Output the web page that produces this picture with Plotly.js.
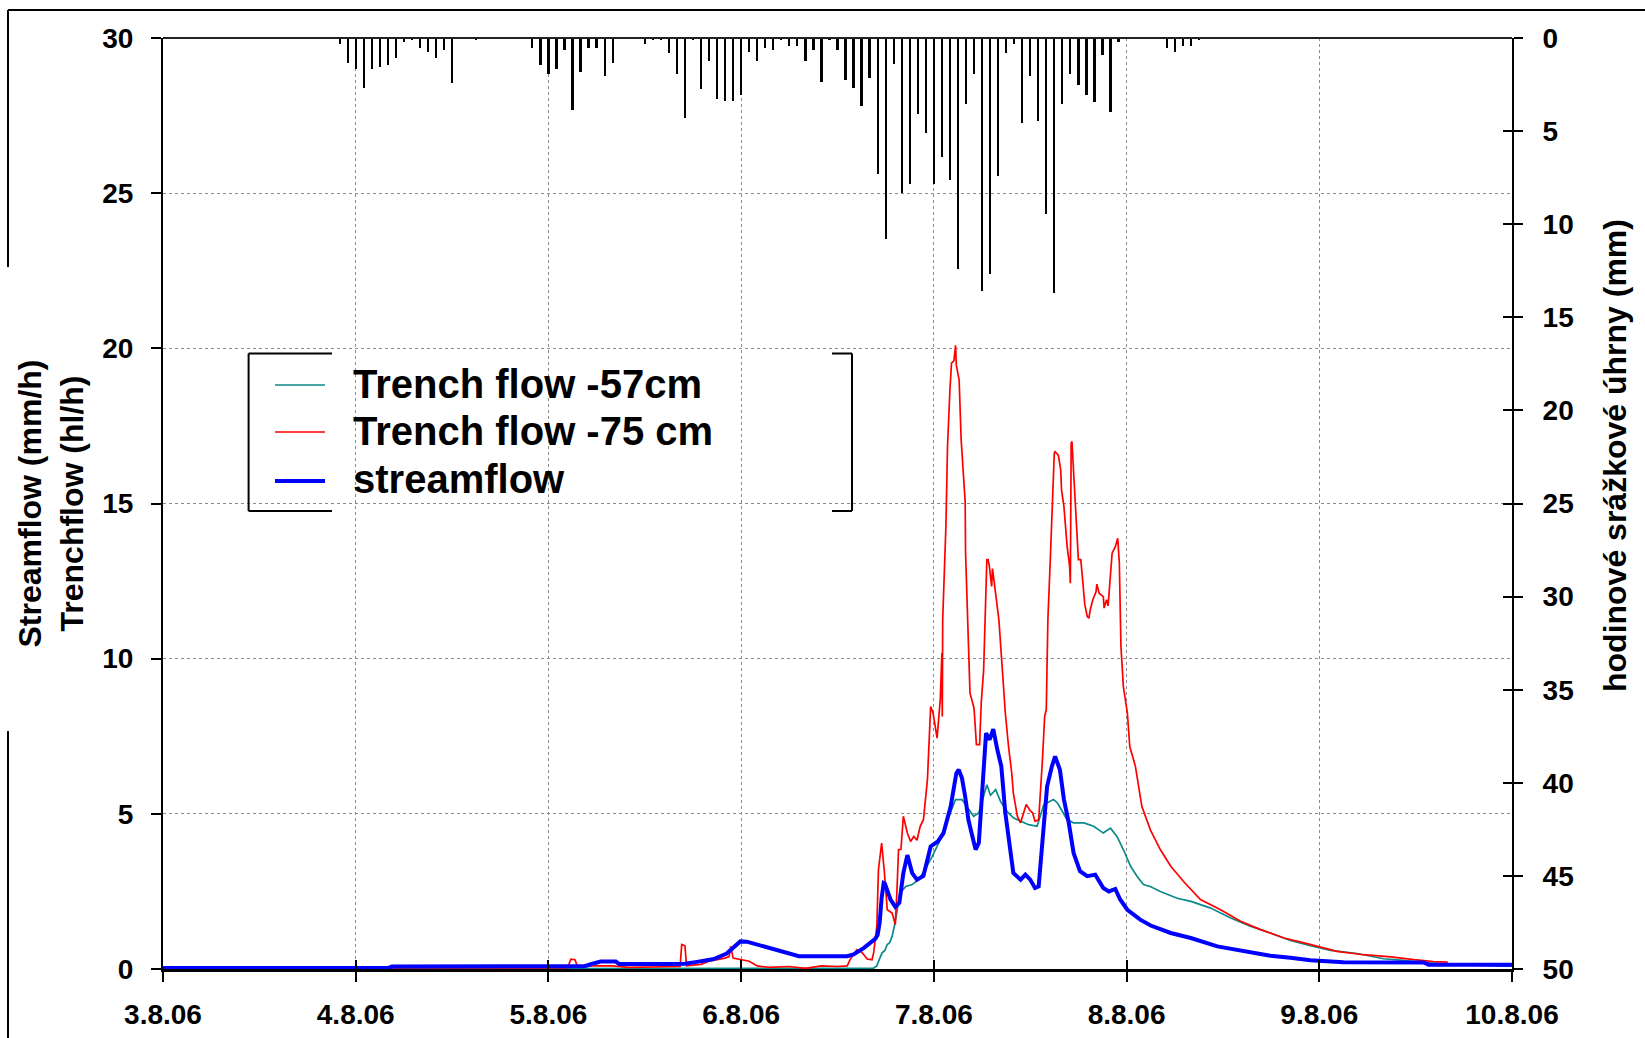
<!DOCTYPE html>
<html>
<head>
<meta charset="utf-8">
<script src="https://cdn.plot.ly/plotly-3.0.1.min.js"></script>
<style>html,body{margin:0;padding:0;background:#fff;}#chart{width:1645px;height:1038px;}</style>
</head>
<body>
<div id="chart"></div>
<script>
// ---- tick labels (x axis in hours since 3.8.2006 00:00) ----
const dayTicks = [0, 24, 48, 72, 96, 120, 144, 168];
const dayLabels = ['3.8.06', '4.8.06', '5.8.06', '6.8.06', '7.8.06', '8.8.06', '9.8.06', '10.8.06'];

// ---- series names ----
const seriesNames = ['Trench flow -57cm', 'Trench flow -75 cm', 'streamflow'];
const seriesColors = ['#0a8a8a', '#ff0000', '#0000ff'];

// ---- hourly precipitation (mm) ----
const rainHours = [22,23,24,25,26,27,28,29,30,31,32,33,34,35,36,39,
  46,47,48,49,50,51,52,53,54,55,56,60,61,62,63,64,65,66,67,68,69,70,71,72,73,
  74,75,76,77,78,79,80,81,82,83,84,85,86,87,88,89,90,91,92,93,94,95,96,97,98,99,
  100,101,102,103,104,105,106,107,108,109,110,111,112,113,114,115,116,117,118,119,
  125,126,127,128,129];
const rainMM = [0.33,1.34,1.66,2.66,1.66,1.55,1.44,1.05,0.23,0.1,0.53,0.75,1.05,0.64,2.44,0.1,
  0.53,1.44,1.94,1.66,0.64,3.88,1.85,0.53,0.53,2.05,1.34,0.33,0.1,0.1,0.83,1.94,4.27,0.1,2.75,1.23,3.27,3.36,3.36,3.05,0.75,
  1.23,0.53,0.64,0.1,0.42,0.42,1.23,0.64,2.36,0.1,0.64,2.25,2.66,3.66,2.14,7.33,10.77,1.42,8.35,7.83,4.07,5.09,7.83,6.40,7.63,12.4,
  3.57,1.94,13.61,12.7,7.42,0.83,0.3,4.59,2.05,4.48,9.46,13.72,3.57,1.94,2.55,3.07,3.46,0.92,3.97,0.23,
  0.53,0.75,0.42,0.42,0.1];

// ---- Trench flow -57 cm ----
const tealHours = [0,79,79.5,88.5,88.9,89.2,89.55,89.9,90.2,90.5,90.8,91.1,91.4,91.8,92.5,93.3,94.1,94.9,95.8,96.6,97.4,98.1,98.7,99.5,
  100.1,100.95,101.6,102.2,102.6,103.05,103.7,104.3,105.1,105.9,106.8,107.8,108.85,109.7,110.9,111.4,112.6,113.4,
  114.7,115.9,117.1,118.0,118.8,119.6,120.5,121.3,122.1,122.95,124.2,126.3,128.0,130.4,132.9,135.4,137.9,140.4,
  142.9,145.4,148.7,152.0,154.5,157.0,166.6,168];
const tealQ = [0,0,0.02,0.03,0.1,0.3,0.52,0.6,0.79,0.85,1.05,1.4,1.91,2.45,2.66,2.72,2.88,3.2,3.63,4.06,4.6,5.03,5.46,5.46,
  5.24,4.92,5.03,5.56,5.94,5.6,5.78,5.4,5.08,4.87,4.76,4.65,4.6,5.3,5.46,5.35,4.81,4.71,
  4.71,4.6,4.38,4.54,4.27,3.85,3.31,2.99,2.72,2.66,2.5,2.28,2.18,1.97,1.65,1.38,1.16,0.92,
  0.75,0.6,0.5,0.33,0.28,0.2,0.09,0.09];

// ---- Trench flow -75 cm ----
const redHours = [0,50.3,50.8,51.3,51.6,56,58,64.4,64.6,65.0,65.2,67,68,70,70.5,70.7,71.0,72,73,74,75.5,78,80,82,84,85.2,
  85.6,86.4,87,87.7,88.3,88.5,88.9,89.1,89.5,89.85,90.2,90.8,91.2,91.4,91.6,91.9,92.2,92.7,93.1,93.5,93.9,94.3,94.7,
  95.2,95.6,95.9,96.4,96.8,97.0,97.05,97.1,97.5,97.7,98.0,98.2,98.5,98.7,98.8,99.0,99.15,99.4,99.9,99.95,100.2,100.5,
  101.0,101.3,101.7,101.9,102.2,102.4,102.6,102.75,102.9,103.2,103.3,103.5,103.8,104.1,104.5,104.9,105.3,105.7,105.9,
  106.4,106.8,107.2,107.5,108.0,108.3,108.6,109.05,109.5,109.8,110.0,110.2,110.5,110.7,111.0,111.1,111.5,111.8,111.9,
  112.2,112.3,112.5,112.6,112.9,113.0,113.1,113.2,113.5,113.8,114.0,114.3,114.5,114.6,114.8,115.1,115.3,115.5,115.8,
  116.2,116.3,116.6,117.1,117.2,117.5,117.7,117.9,118.2,118.6,118.9,119.1,119.2,119.3,119.6,120.1,120.4,121.1,121.9,
  122.95,124.2,125.5,127.1,129.2,131.7,134.2,136.7,139.6,142.1,144.1,146.2,149.5,152.9,155.8,158.2,160.0];
const redQ = [0,0,0.32,0.3,0.1,0.1,0.05,0.08,0.79,0.75,0.1,0.15,0.25,0.35,0.4,0.73,0.35,0.3,0.25,0.1,0.05,0.08,0.02,0.1,0.08,0.1,
  0.32,0.62,0.55,0.32,0.3,0.52,1.38,3.2,4.06,3.09,1.91,1.8,1.43,2.5,3.85,3.85,4.92,4.38,4.11,4.27,4.15,4.6,4.81,
  6.1,8.46,8.25,7.44,8.68,10.18,8.14,11.25,14.26,16.83,18.66,19.52,19.6,20.1,19.45,19.09,18.98,17.05,15.06,13.4,11.25,8.89,
  8.41,7.23,7.23,8.57,9.64,11.47,13.19,13.19,13.0,12.33,12.9,12.5,11.79,11.25,9.75,8.25,7.17,6.31,5.67,
  4.92,4.71,5.1,5.3,5.1,5.03,4.76,4.81,6.64,8.14,8.36,11.25,13.19,14.69,16.62,16.67,16.56,16.08,15.44,
  14.9,14.58,13.94,13.61,13.0,12.43,16.94,17.0,15.55,14.26,13.19,13.19,12.6,12.33,11.74,11.36,11.3,11.6,11.9,
  12.16,12.4,12.1,12.0,11.63,11.9,11.7,12.33,13.4,13.61,13.88,13.08,11.25,10.39,9.1,8.25,7.17,6.53,5.24,
  4.49,3.85,3.31,2.82,2.24,1.91,1.54,1.27,1.0,0.84,0.71,0.57,0.46,0.39,0.3,0.24,0.22];

// ---- streamflow ----
const blueHours = [0,28,28.5,42,52.5,53.5,54.5,56.4,56.8,63.6,65,66.5,68.6,70.2,71.1,71.9,72.7,74.4,76.05,77.7,79.2,85.2,
  86.0,87.3,88.7,89.0,89.25,89.5,89.75,89.9,90.6,91.2,91.7,92.2,92.7,93.3,93.9,94.7,95.6,96.5,97.2,98.1,98.8,99.1,99.5,
  99.9,100.3,100.8,101.2,101.6,102.0,102.5,102.95,103.4,103.9,104.4,104.9,105.4,105.9,106.8,107.4,108.0,108.6,109.05,
  109.5,110.1,110.7,111.1,111.7,112.2,112.8,113.4,114.2,115.1,116.1,117.1,117.8,118.6,119.2,120.1,121.7,123.0,125.5,
  128.0,131.3,134.6,137.9,140.4,142.9,147.0,157.0,157.6,168];
const blueQ = [0.03,0.03,0.08,0.09,0.09,0.17,0.24,0.24,0.16,0.16,0.17,0.23,0.32,0.5,0.71,0.89,0.88,0.75,0.65,0.52,0.41,0.41,
  0.47,0.68,0.97,1.1,1.5,2.3,2.77,2.75,2.24,2.0,2.13,3.09,3.67,3.09,2.88,3.0,3.95,4.11,4.38,5.24,6.31,6.42,6.15,
  5.56,4.81,4.27,3.85,4.06,5.67,7.6,7.39,7.73,7.07,6.53,5.03,3.95,3.09,2.88,3.04,2.88,2.61,2.66,
  4.06,5.88,6.53,6.85,6.42,5.46,4.71,3.74,3.15,2.99,3.04,2.61,2.5,2.58,2.24,1.91,1.59,1.4,1.16,
  1.0,0.73,0.57,0.43,0.36,0.28,0.22,0.21,0.14,0.14];

// ---- plot-area geometry helpers (pixels -> paper) ----
const L = 163, R = 1512, T = 38, B = 969;
const px = x => (x - L) / (R - L);
const py = y => (B - y) / (B - T);
const FONT = 'Liberation Sans, Arial, Helvetica, sans-serif';

function seg(x0, y0, x1, y1, w, c) {
  return {type: 'line', xref: 'paper', yref: 'paper', x0: px(x0), y0: py(y0), x1: px(x1), y1: py(y1),
          line: {color: c || '#000', width: w || 2}, layer: 'above'};
}

const seriesX = [tealHours, redHours, blueHours];
const seriesY = [tealQ, redQ, blueQ];
const seriesW = [1.7, 1.7, 4];

const traces = [
  {type: 'bar', x: rainHours, y: rainMM, xaxis: 'x', yaxis: 'y2', width: 0.28,
   marker: {color: '#000', line: {width: 0}}, showlegend: false, hoverinfo: 'x+y'}
];
seriesNames.forEach((n, i) => traces.push({
  type: 'scatter', mode: 'lines', name: n, x: seriesX[i], y: seriesY[i],
  line: {color: seriesColors[i], width: seriesW[i]}, showlegend: false
}));
// empty helper trace so the inside-tick axes are drawn
traces.push({type: 'scatter', mode: 'lines', x: [], y: [], xaxis: 'x2', yaxis: 'y3', showlegend: false, hoverinfo: 'skip'});

const tickFont = {family: FONT, size: 28, color: '#000', weight: 'bold'};

// legend (boxed, with the frame partly hidden behind the text block as in the source)
const legRowText = [384, 431, 479];
const legRowLine = [385, 432, 481];
const legendAnn = seriesNames.map((n, i) => ({
  xref: 'paper', yref: 'paper', x: px(351), y: py(legRowText[i]), xanchor: 'left', yanchor: 'middle',
  text: n, showarrow: false, font: {family: FONT, size: 40, color: '#000', weight: 'bold'}
}));
const legendLines = seriesNames.map((n, i) => seg(275, legRowLine[i], 325, legRowLine[i], seriesW[i], seriesColors[i]));

const layout = {
  width: 1645, height: 1038,
  margin: {l: L, r: 1645 - R, t: T, b: 1038 - B, pad: 0},
  paper_bgcolor: '#fff', plot_bgcolor: 'rgba(0,0,0,0)',
  showlegend: false,
  bargap: 0,
  xaxis: {
    range: [0, 168], tickmode: 'array', tickvals: dayTicks, ticktext: dayLabels,
    ticks: 'outside', ticklen: 10, tickwidth: 2, tickcolor: '#000',
    tickfont: tickFont, ticklabelstandoff: 8,
    showline: true, linecolor: '#000', linewidth: 3,
    showgrid: true, gridcolor: '#8c8c8c', gridwidth: 1, griddash: 'dot',
    zeroline: false, fixedrange: true
  },
  xaxis2: {
    overlaying: 'x', side: 'bottom', anchor: 'y', range: [0, 168], tickmode: 'array', tickvals: dayTicks,
    ticks: 'inside', ticklen: 9, tickwidth: 2, tickcolor: '#000',
    showticklabels: false, showline: false, showgrid: false, zeroline: false
  },
  yaxis: {
    range: [0, 30], tickmode: 'linear', tick0: 0, dtick: 5,
    ticks: 'outside', ticklen: 10, tickwidth: 2, tickcolor: '#000',
    tickfont: tickFont, ticklabelstandoff: 12,
    showline: true, linecolor: '#000', linewidth: 2,
    showgrid: true, gridcolor: '#8c8c8c', gridwidth: 1, griddash: 'dot',
    zeroline: false,
    title: {text: 'Streamflow (mm/h)<br>Trenchflow (hl/h)', standoff: 9,
            font: {family: FONT, size: 32, color: '#000', weight: 'bold'}}
  },
  yaxis2: {
    overlaying: 'y', side: 'right', anchor: 'x', range: [50, 0], tickmode: 'linear', tick0: 0, dtick: 5,
    ticks: 'outside', ticklen: 9, tickwidth: 2, tickcolor: '#000',
    tickfont: tickFont, ticklabelstandoff: 14,
    showline: true, linecolor: '#000', linewidth: 2,
    showgrid: false, zeroline: false
  },
  yaxis3: {
    overlaying: 'y', side: 'right', anchor: 'x2', range: [50, 0], tickmode: 'linear', tick0: 0, dtick: 5,
    ticks: 'inside', ticklen: 9, tickwidth: 2, tickcolor: '#000',
    showticklabels: false, showline: false, showgrid: false, zeroline: false
  },
  annotations: [
    {xref: 'paper', yref: 'paper', x: px(1615), y: py(456), xanchor: 'center', yanchor: 'middle',
     text: 'hodinové srážkové úhrny (mm)', textangle: -90, showarrow: false,
     font: {family: FONT, size: 32, color: '#000', weight: 'bold'}}
  ].concat(legendAnn),
  shapes: [
    {type: 'rect', xref: 'paper', yref: 'paper', x0: px(248.6), x1: px(852), y0: py(511), y1: py(353.5),
     fillcolor: '#fff', line: {width: 0}, layer: 'between'},
    seg(248.6, 353.5, 248.6, 511), seg(248.6, 353.5, 332, 353.5), seg(248.6, 511, 332, 511),
    seg(852, 353.5, 852, 511), seg(832, 353.5, 852, 353.5), seg(832, 511, 852, 511),
    seg(L, T, R, T, 2, '#222'),
    seg(8, 10, 1645, 10), seg(8, 10, 8, 267), seg(8, 731, 8, 1038)
  ].concat(legendLines)
};

Plotly.newPlot('chart', traces, layout, {displayModeBar: false, staticPlot: true});
</script>
</body>
</html>
